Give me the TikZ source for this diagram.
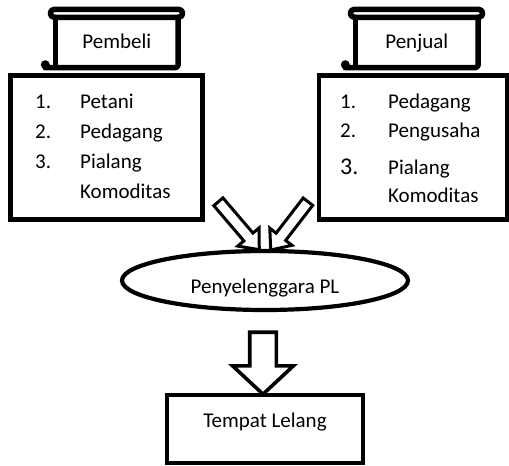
\documentclass[tikz,border=0pt]{standalone}
\usepackage{fontspec}
\setmainfont{Carlito}
\usepackage{tikz}
\usetikzlibrary{positioning, calc, shapes.geometric, shapes.arrows}

\begin{document}
\begin{tikzpicture}[
    x=1pt, y=-1pt,
    txt/.style={font=\fontsize{21}{25}\selectfont},
    listbox/.style={rectangle, draw=black, fill=white, line width=4.2pt, inner sep=0pt},
    rollbody/.style={rectangle, inner sep=0pt, minimum width=122.5pt, minimum height=50pt,
                     txt, text height=11pt, text depth=0pt},
    scrollline/.style={draw=black, line width=5.5pt, line cap=round, line join=round},
    listtext/.style={txt, anchor=base west, inner sep=0pt},
    bigarrow/.style={single arrow, draw=black, fill=white, line width=3pt,
                     inner xsep=0pt, text height=0pt, text depth=0pt,
                     single arrow head indent=0pt},
  ]
    \useasboundingbox (0,0) rectangle (509,466);

    % Pembeli
    \node[rollbody] (sc1) at (116.75,42.5) {Pembeli};
    \node[listbox, minimum width=192pt, minimum height=144pt] (beli) at (106.5,147.5) {};
    \foreach \i/\y in {1/108, 2/138, 3/168} {
      \node[listtext] (bn\i) at (35,\y) {\i.};
    }
    \foreach \i/\t/\y in {1/Petani/108, 2/Pedagang/138, 3/Pialang/168, 4/Komoditas/198} {
      \node[listtext] (bt\i) at (80,\y) {\t};
    }

    % Penjual
    \node[rollbody] (sc2) at (416.75,42.5) {Penjual};
    \node[listbox, minimum width=188.5pt, minimum height=144pt] (jual) at (413.25,147.5) {};
    \node[listtext] (jn1) at (340,108) {1.};
    \node[listtext] (jn2) at (340,137.5) {2.};
    \node[listtext, font=\fontsize{24}{28}\selectfont] (jn3) at (340,174) {3.};
    \foreach \i/\t/\y in {1/Pedagang/108, 2/Pengusaha/137.5, 3/Pialang/174, 4/Komoditas/202} {
      \node[listtext] (jt\i) at (388,\y) {\t};
    }

    % scroll outlines
    \foreach \s in {sc1, sc2} {
      \draw[scrollline, fill=white, rounded corners=4pt]
        ($(\s.north west)+(-5,-8)$) rectangle ($(\s.north east)+(4.5,0)$);
      \draw[scrollline, rounded corners=3pt]
        ($(\s.south west)+(-10,0)$) -- (\s.south east) -- (\s.north east);
      \draw[scrollline] (\s.north west) -- ($(\s.south west)+(0,-2)$);
      \fill ($(\s.south west)+(-10,-3)$) circle (4.5);
    }

    % Penyelenggara
    \node[bigarrow, inner ysep=4.5pt, minimum height=63pt, minimum width=25pt,
          single arrow head extend=8pt, single arrow tip angle=80, rotate=-49.5] (arrL) at (236.5,223) {};
    \node[bigarrow, inner ysep=4.5pt, minimum height=61pt, minimum width=25pt,
          single arrow head extend=8pt, single arrow tip angle=80, rotate=-127.6] (arrR) at (291.5,223) {};
    \node[ellipse, draw=black, fill=white, line width=4.2pt, inner sep=0pt,
          minimum width=286pt, minimum height=59pt, txt, text height=25pt, text depth=0pt]
          (pl) at (265,280.5) {Penyelenggara PL};

    % Tempat Lelang
    \node[bigarrow, line width=3.6pt, inner ysep=11.5pt, minimum height=62pt, minimum width=60pt,
          single arrow head extend=17pt, single arrow tip angle=94, rotate=-90] (arrD) at (263,357) {};
    \node[listbox, minimum width=196pt, minimum height=68pt, txt, text depth=18.5pt]
          (tempat) at (265,429) {Tempat Lelang};
  \end{tikzpicture}
\end{document}
